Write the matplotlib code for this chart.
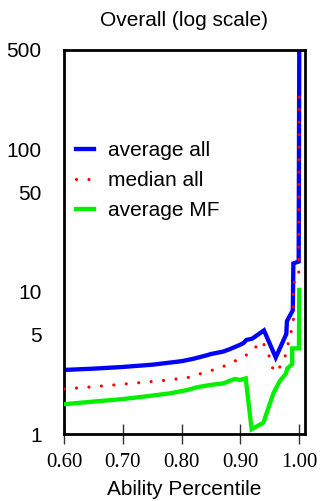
import matplotlib
matplotlib.use("Agg")
import matplotlib.pyplot as plt

# values (ability percentile vs. value, log y)
avg_all_x = [0.60, 0.65, 0.70, 0.75, 0.80, 0.82, 0.84, 0.85, 0.86, 0.87, 0.88,
             0.89, 0.90, 0.905, 0.91, 0.92, 0.94, 0.96, 0.978, 0.979, 0.989,
             0.99, 0.999, 1.0]
avg_all_y = [2.82, 2.88, 2.96, 3.07, 3.25, 3.38, 3.55, 3.65, 3.72, 3.79, 3.92,
             4.08, 4.25, 4.35, 4.58, 4.68, 5.35, 3.45, 5.05, 6.2, 7.4,
             15.8, 16.3, 500]

med_all_x = [0.60, 0.65, 0.70, 0.77, 0.81, 0.83, 0.85, 0.87, 0.888, 0.906,
             0.921, 0.936, 0.945, 0.951, 0.957, 0.965, 0.975, 0.98, 0.984,
             0.99, 0.99, 0.999, 1.0]
med_all_y = [2.07, 2.15, 2.24, 2.38, 2.49, 2.64, 2.79, 2.97, 3.22, 3.49,
             3.89, 4.5, 3.96, 3.28, 2.72, 2.86, 3.4, 4.1, 4.9,
             5.9, 11.5, 12.3, 275]

avg_mf_x = [0.60, 0.65, 0.70, 0.735, 0.78, 0.81, 0.826, 0.848, 0.871, 0.88,
            0.891, 0.899, 0.909, 0.919, 0.939, 0.956, 0.967, 0.977, 0.98,
            0.988, 0.988, 0.9995, 1.0]
avg_mf_y = [1.62, 1.69, 1.76, 1.83, 1.93, 2.04, 2.13, 2.21, 2.27, 2.35,
            2.44, 2.40, 2.46, 1.08, 1.20, 1.93, 2.36, 2.65, 2.9,
            3.1, 4.0, 4.0, 10.3]

yticks = [1, 5, 10, 50, 100, 500]
xticks = [0.60, 0.70, 0.80, 0.90, 1.00]

sans = "Liberation Sans"
serif = "Liberation Serif"
fs = 15

fig = plt.figure(figsize=(3.2, 5.01), dpi=100)
ax = fig.add_axes([0.2, 0.1337, 0.753, 0.7665])

ax.plot(avg_all_x, avg_all_y, color="#0000ff", lw=3.1, label="average all",
        solid_joinstyle="miter", zorder=2)
ax.plot(med_all_x, med_all_y, color="#ff0000", lw=2.3, linestyle=(0, (0.01, 3.9)),
        dash_capstyle="round", label="median all", zorder=4)
ax.plot(avg_mf_x, avg_mf_y, color="#00f000", lw=3.1, label="average MF",
        solid_joinstyle="miter", zorder=3)

ax.set_yscale("log")
ax.set_ylim(1, 500)
ax.set_xlim(0.60, 1.0097)
ax.minorticks_off()

ax.set_yticks(yticks)
ax.set_yticklabels([str(v) for v in yticks], fontsize=fs, family=sans)
ax.tick_params(axis="y", length=0, pad=16)

ax.set_xticks(xticks)
ax.set_xticklabels(["%.2f" % v for v in xticks], fontsize=fs, family=serif)
ax.tick_params(axis="x", direction="inout", length=15, width=1, color="#333333", pad=6)

for s in ax.spines.values():
    s.set_linewidth(2)

ax.set_title("Overall (log scale)", fontsize=fs, family=sans, pad=17.5)
ax.set_xlabel("Ability Percentile", fontsize=fs, family=sans, labelpad=6)

ax.legend(loc="upper left", bbox_to_anchor=(0.05, 0.762), frameon=False,
          borderpad=0, borderaxespad=0, handlelength=0.85, handletextpad=0.7,
          labelspacing=0.52, prop={"family": sans, "size": fs})

fig.savefig("out.png", dpi=100)
